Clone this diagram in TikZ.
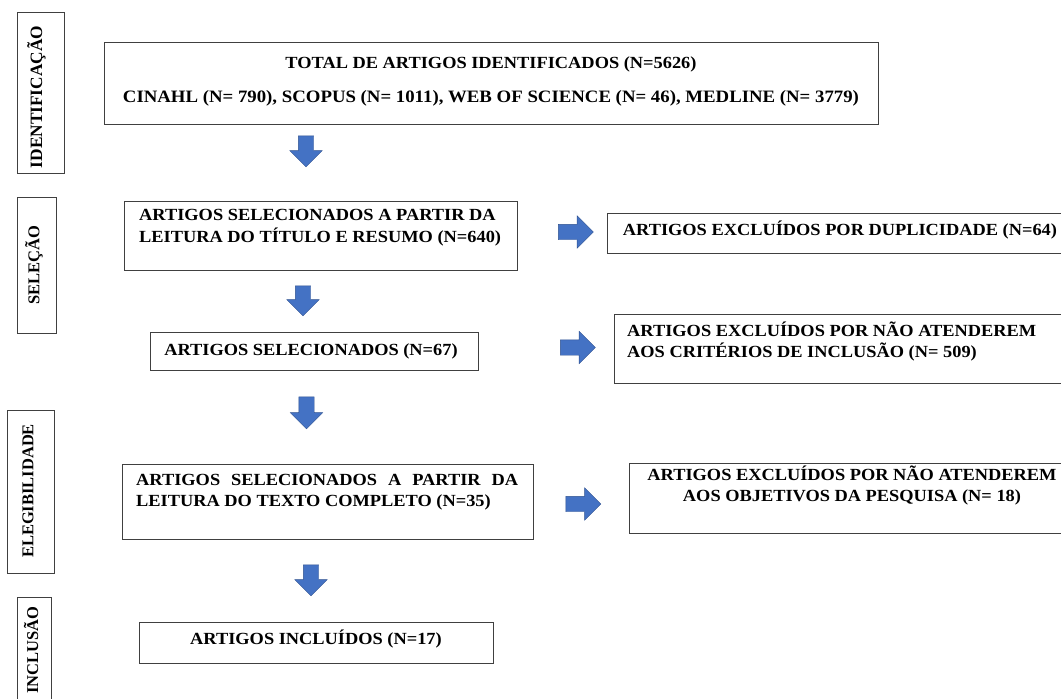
\documentclass[tikz,border=0pt]{standalone}
\usepackage{fontspec}
\setmainfont{Liberation Serif}[FakeStretch=1.08]
\newfontfamily\stagefont{Liberation Serif}
\usetikzlibrary{shapes.arrows}

\definecolor{arrowblue}{HTML}{4472C4}
\definecolor{arrowedge}{HTML}{2F528F}

\tikzset{
	box/.style={draw=black!75, line width=0.9pt, inner sep=0pt},
	boxtext/.style={inner sep=0pt, font=\bfseries\fontsize{17}{21}\selectfont},
	stagetext/.style={rotate=90, inner sep=0pt, font=\stagefont\bfseries\fontsize{16.5}{19}\selectfont},
	blockarrow/.style={single arrow, fill=arrowblue, draw=arrowedge, line width=0.4pt,
		inner xsep=0pt, inner ysep=7.5pt, single arrow head extend=8.5pt},
	downarrow/.style={blockarrow, rotate=-90, minimum height=#1},
	rightarrow/.style={blockarrow, minimum height=35pt},
}

\begin{document}
\begin{tikzpicture}[x=1pt, y=-1pt]
	\useasboundingbox (0,0) rectangle (1061,699);

	% etapas
	\node[box, minimum width=47pt, minimum height=161pt] (idbox) at (40.5,92.5) {};
	\node[stagetext, font=\stagefont\bfseries\fontsize{17.3}{19}\selectfont] (idtxt) at (36.5,97) {IDENTIFICAÇÃO};
	\node[box, minimum width=39pt, minimum height=136pt] (selbox) at (36.5,265) {};
	\node[stagetext] (seltxt) at (34,265) {SELEÇÃO};
	\node[box, minimum width=47pt, minimum height=163pt] (elegbox) at (30.5,491.5) {};
	\node[stagetext] (elegtxt) at (28,491) {ELEGIBILIDADE};
	\node[box, minimum width=34pt, minimum height=120pt] (inclbox) at (34,657) {};
	\node[stagetext] (incltxt) at (31,650) {INCLUSÃO};

	% caixas principais
	\node[box, minimum width=774pt, minimum height=82pt] (total) at (491,83) {};
	\node[boxtext, align=center] (totaltxt) at (491,81)
		{TOTAL DE ARTIGOS IDENTIFICADOS (N=5626)\\[13pt]
		{\fontsize{17.4}{21}\selectfont CINAHL (N= 790), SCOPUS (N= 1011), WEB OF SCIENCE (N= 46), MEDLINE (N= 3779)}};

	\node[box, minimum width=393pt, minimum height=69pt] (sel1) at (320.5,235.5) {};
	\node[boxtext, align=left, anchor=west] (sel1txt) at (139,228)
		{ARTIGOS SELECIONADOS A PARTIR DA\\[1pt]LEITURA DO TÍTULO E RESUMO (N=640)};

	\node[box, minimum width=328pt, minimum height=38pt] (sel2) at (314,351) {};
	\node[boxtext] (sel2txt) at (311,351) {ARTIGOS SELECIONADOS (N=67)};

	\node[box, minimum width=411pt, minimum height=75pt] (sel3) at (327.5,501.5) {};
	\node[boxtext, align=justify, text width=382pt, anchor=west] (sel3txt) at (136,492)
		{ARTIGOS SELECIONADOS A PARTIR DA\linebreak LEITURA DO TEXTO COMPLETO (N=35)};

	\node[box, minimum width=354pt, minimum height=41pt] (incl) at (316,642.5) {};
	\node[boxtext] (incltxt2) at (316,639) {ARTIGOS INCLUÍDOS (N=17)};

	% caixas de exclusao
	\node[box, minimum width=463pt, minimum height=40pt] (exc1) at (838.5,233) {};
	\node[boxtext] (exc1txt) at (840,230) {ARTIGOS EXCLUÍDOS POR DUPLICIDADE (N=64)};

	\node[box, minimum width=456pt, minimum height=69pt] (exc2) at (842,348.5) {};
	\node[boxtext, align=left, anchor=west] (exc2txt) at (627,342)
		{ARTIGOS EXCLUÍDOS POR NÃO ATENDEREM\\AOS CRITÉRIOS DE INCLUSÃO (N= 509)};

	\node[box, minimum width=441pt, minimum height=70pt] (exc3) at (849.5,498) {};
	\node[boxtext, align=center] (exc3txt) at (852,486)
		{ARTIGOS EXCLUÍDOS POR NÃO ATENDEREM\\AOS OBJETIVOS DA PESQUISA (N= 18)};

	% setas
	\node[downarrow=31pt] (d1) at (306,147.5) {};
	\node[downarrow=30pt] (d2) at (303,297) {};
	\node[downarrow=32pt] (d3) at (306.5,409) {};
	\node[downarrow=31pt] (d4) at (311,576.5) {};
	\node[rightarrow] (r1) at (572,232) {};
	\node[rightarrow] (r2) at (574,347.5) {};
	\node[rightarrow] (r3) at (579.5,504) {};
\end{tikzpicture}
\end{document}
